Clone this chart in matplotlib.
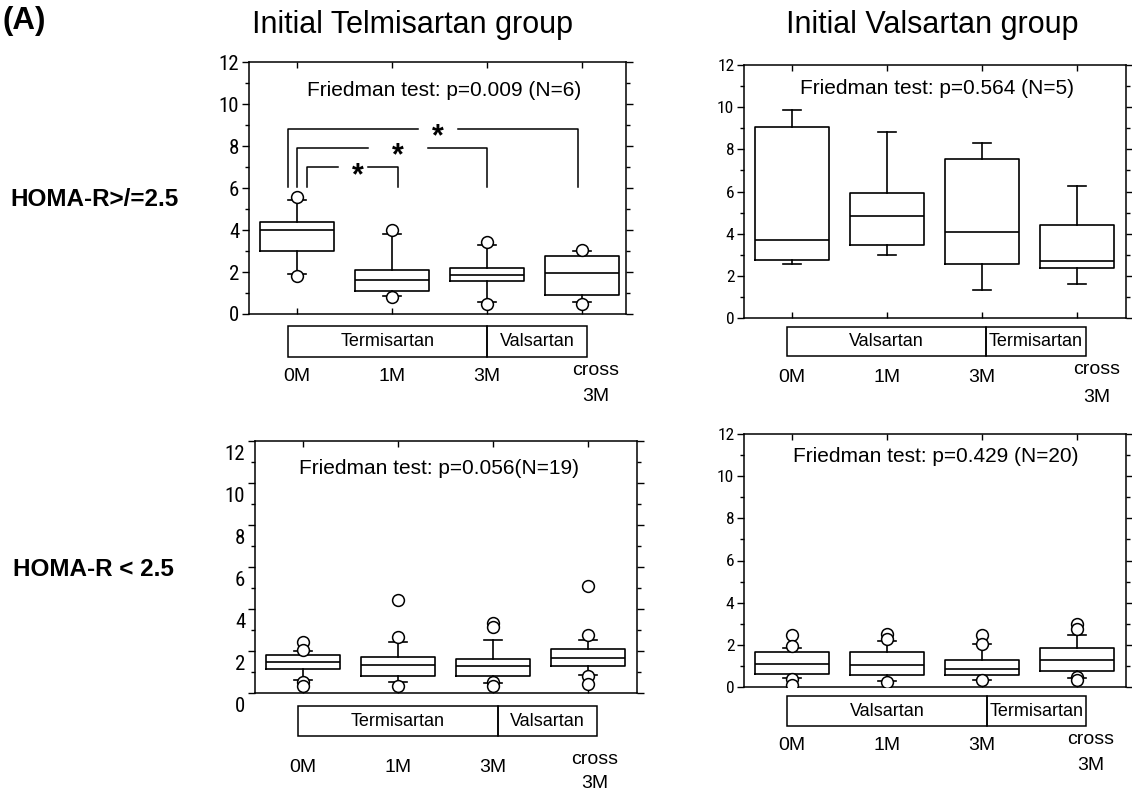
import matplotlib
matplotlib.use("Agg")
import matplotlib.pyplot as plt
from matplotlib import font_manager
from matplotlib.patches import Rectangle
from matplotlib.transforms import ScaledTranslation
from matplotlib.ticker import MultipleLocator

# ---------------- data ----------------
time_labels = ["0M", "1M", "3M", "cross\n3M"]
positions = [1, 2, 3, 4]

# Initial Telmisartan group, HOMA-R >= 2.5 (N=6)
tel_hi_q1 = [3.01, 1.11, 1.55, 0.92]
tel_hi_med = [4.00, 1.63, 1.87, 1.95]
tel_hi_q3 = [4.37, 2.10, 2.17, 2.74]
tel_hi_lo = [1.90, 0.84, 0.57, 0.57]
tel_hi_hi = [5.43, 3.82, 3.29, 2.98]
tel_hi_fliers = [[5.56, 1.82], [4.00, 0.79], [3.43, 0.49], [3.06, 0.49]]

# Initial Valsartan group, HOMA-R >= 2.5 (N=5)
val_hi_q1 = [2.77, 3.45, 2.56, 2.37]
val_hi_med = [3.69, 4.83, 4.07, 2.71]
val_hi_q3 = [9.07, 5.95, 7.52, 4.39]
val_hi_lo = [2.58, 2.99, 1.31, 1.61]
val_hi_hi = [9.86, 8.83, 8.31, 6.27]
val_hi_fliers = [[], [], [], []]

# Initial Telmisartan group, HOMA-R < 2.5 (N=19)
tel_lo_q1 = [1.14, 0.83, 0.79, 1.30]
tel_lo_med = [1.46, 1.33, 1.30, 1.69]
tel_lo_q3 = [1.83, 1.70, 1.61, 2.11]
tel_lo_lo = [0.63, 0.54, 0.47, 0.87]
tel_lo_hi = [2.02, 2.41, 2.53, 2.53]
tel_lo_fliers = [[2.41, 2.06, 0.54, 0.35], [2.68, 4.44, 0.32],
                 [3.32, 3.13, 0.51, 0.32], [2.74, 5.11, 0.79, 0.43]]

# Initial Valsartan group, HOMA-R < 2.5 (N=20)
val_lo_q1 = [0.63, 0.55, 0.55, 0.76]
val_lo_med = [1.11, 1.06, 0.87, 1.27]
val_lo_q3 = [1.68, 1.68, 1.30, 1.87]
val_lo_lo = [0.44, 0.28, 0.35, 0.43]
val_lo_hi = [1.84, 2.17, 2.06, 2.49]
val_lo_fliers = [[2.45, 1.93, 0.40, 0.11], [2.53, 2.30, 0.24],
                 [2.45, 2.06, 0.32], [2.98, 2.77, 0.47, 0.35]]

friedman_texts = ["Friedman test: p=0.009 (N=6)", "Friedman test: p=0.564 (N=5)",
                  "Friedman test: p=0.056(N=19)", "Friedman test: p=0.429 (N=20)"]
drugs_tel_first = ["Termisartan", "Valsartan"]
drugs_val_first = ["Valsartan", "Termisartan"]
col_titles = ["Initial Telmisartan group", "Initial Valsartan group"]
row_titles = ["HOMA-R>/=2.5", "HOMA-R < 2.5"]
panel_tag = "(A)"

# significance brackets (panel 1)
sig_x_left = [0.905, 1.0, 1.11]
sig_x_right = [3.96, 3.0, 2.06]
sig_y = [8.83, 7.92, 6.98]
sig_y_foot = 6.06
sig_star_x = [2.48, 2.06, 1.64]
sig_gap_left = [2.27, 1.745, 1.43]
sig_gap_right = [2.69, 2.375, 1.75]
sig_label = ["*", "*", "*"]

# ---------------- fonts ----------------
avail = {f.name for f in font_manager.fontManager.ttflist}
def pick(names, fallback="DejaVu Sans"):
    for n in names:
        if n in avail:
            return n
    return fallback

SANS = pick(["Liberation Sans", "Arial", "Noto Sans"])
NARROW = pick(["Liberation Sans Narrow", "Roboto Condensed", "Open Sans Condensed"], SANS)
plt.rcParams["font.family"] = [SANS, "DejaVu Sans"]

W, H = 1132, 794
fig = plt.figure(figsize=(W / 100, H / 100), dpi=100)

def px_rect(l, t, r, b):
    return [l / W, 1 - b / H, (r - l) / W, (b - t) / H]

panels = [
    dict(rect=px_rect(249, 62, 626, 314), xlim=(0.495, 4.463),
         stats=(tel_hi_q1, tel_hi_med, tel_hi_q3, tel_hi_lo, tel_hi_hi, tel_hi_fliers),
         text=friedman_texts[0], text_xy=(444, 90), drugs=drugs_tel_first,
         band=(0.905, 3.0, 4.05, -0.57, -2.05), ytick_fs=15, ylab_shift=0,
         lab_off=(63, 57, 83), cross_dx=14),
    dict(rect=px_rect(744, 65, 1126, 318), xlim=(0.495, 4.516),
         stats=(val_hi_q1, val_hi_med, val_hi_q3, val_hi_lo, val_hi_hi, val_hi_fliers),
         text=friedman_texts[1], text_xy=(937, 89), drugs=drugs_val_first,
         band=(0.947, 3.04, 4.09, -0.43, -1.81), ytick_fs=12.5, ylab_shift=0,
         lab_off=(59, 52, 79), cross_dx=20),
    dict(rect=px_rect(255, 441, 637, 693), xlim=(0.495, 4.516),
         stats=(tel_lo_q1, tel_lo_med, tel_lo_q3, tel_lo_lo, tel_lo_hi, tel_lo_fliers),
         text=friedman_texts[2], text_xy=(439, 468), drugs=drugs_tel_first,
         band=(0.947, 3.05, 4.09, -0.62, -2.05), ytick_fs=15, ylab_shift=11,
         lab_off=(75, 67, 90), cross_dx=7),
    dict(rect=px_rect(744, 434, 1126, 687), xlim=(0.495, 4.516),
         stats=(val_lo_q1, val_lo_med, val_lo_q3, val_lo_lo, val_lo_hi, val_lo_fliers),
         text=friedman_texts[3], text_xy=(936, 457), drugs=drugs_val_first,
         band=(0.947, 3.05, 4.10, -0.43, -1.86), ytick_fs=12.5, ylab_shift=0,
         lab_off=(58, 53, 78), cross_dx=14),
]

LW = 1.2
axes = []
for p in panels:
    ax = fig.add_axes(p["rect"])
    axes.append(ax)
    q1, med, q3, lo, hi, fl = p["stats"]
    bstats = []
    for i in range(len(positions)):
        bstats.append(dict(q1=q1[i], med=med[i], q3=q3[i], whislo=lo[i],
                           whishi=hi[i], fliers=fl[i]))
    ax.bxp(bstats, positions=positions, widths=0.78, capwidths=0.19,
           showfliers=True, patch_artist=False,
           boxprops=dict(color="black", lw=LW),
           medianprops=dict(color="black", lw=LW),
           whiskerprops=dict(color="black", lw=LW),
           capprops=dict(color="black", lw=LW),
           flierprops=dict(marker="o", markerfacecolor="white",
                           markeredgecolor="black", markersize=8.5,
                           markeredgewidth=1.1, zorder=4))
    ax.set_xlim(*p["xlim"])
    ax.set_ylim(0, 12)
    ax.yaxis.set_major_locator(MultipleLocator(2))
    ax.yaxis.set_minor_locator(MultipleLocator(1))
    ax.set_xticks(positions)
    ax.set_xticklabels([])
    ax.tick_params(axis="x", which="both", direction="in", length=4, width=1,
                   top=True, bottom=True, labelbottom=False)
    ax.tick_params(axis="y", which="major", direction="out", length=5, width=1,
                   left=True, right=True, labelsize=p["ytick_fs"], pad=2)
    ax.tick_params(axis="y", which="minor", direction="out", length=3, width=1,
                   left=True, right=True)
    for lab in ax.get_yticklabels():
        lab.set_fontfamily(NARROW)
        if p["ylab_shift"]:
            lab.set_transform(lab.get_transform() +
                              ScaledTranslation(0, -p["ylab_shift"] / 100, fig.dpi_scale_trans))
    for s in ax.spines.values():
        s.set_linewidth(1.1)

    # Friedman text
    tx, ty = p["text_xy"]
    fig.text(tx / W, 1 - ty / H, p["text"], ha="center", va="center", fontsize=15)

    # drug band
    x0, xm, x1, yt, yb = p["band"]
    for (a, b), name in zip([(x0, xm), (xm, x1)], p["drugs"]):
        ax.add_patch(Rectangle((a, yb), b - a, yt - yb, fill=False, ec="black",
                               lw=1.1, clip_on=False, transform=ax.transData))
        ax.text((a + b) / 2, (yt + yb) / 2, name, ha="center", va="center",
                fontsize=13, clip_on=False)

    # time labels
    off_single, off_l1, off_l2 = p["lab_off"]
    for xpos, lab in zip(positions, time_labels):
        lines = lab.split("\n")
        if len(lines) == 1:
            ax.annotate(lines[0], xy=(xpos, 0), xycoords=("data", "axes fraction"),
                        xytext=(0, -off_single), textcoords="offset pixels",
                        ha="center", va="center", fontsize=14, annotation_clip=False)
        else:
            for ln, off in zip(lines, (off_l1, off_l2)):
                ax.annotate(ln, xy=(xpos, 0), xycoords=("data", "axes fraction"),
                            xytext=(p["cross_dx"], -off), textcoords="offset pixels",
                            ha="center", va="center", fontsize=14, annotation_clip=False)

# significance brackets on panel 1
ax1 = axes[0]
for xl, xr, yl, sx, gl, gr, s in zip(sig_x_left, sig_x_right, sig_y, sig_star_x,
                                     sig_gap_left, sig_gap_right, sig_label):
    ax1.plot([xl, xl, gl], [sig_y_foot, yl, yl], color="black", lw=1.1)
    ax1.plot([gr, xr, xr], [yl, yl, sig_y_foot], color="black", lw=1.1)
    ax1.annotate(s, xy=(sx, yl), xycoords="data", xytext=(0, -17),
                 textcoords="offset pixels", ha="center", va="baseline",
                 fontsize=22, fontweight="bold")

# titles
fig.text(412 / W, 1 - 25 / H, col_titles[0], ha="center", va="center", fontsize=22)
fig.text(932 / W, 1 - 25 / H, col_titles[1], ha="center", va="center", fontsize=22)
fig.text(10 / W, 1 - 199 / H, row_titles[0], ha="left", va="center", fontsize=17.5, fontweight="bold")
fig.text(13 / W, 1 - 570 / H, row_titles[1], ha="left", va="center", fontsize=17.5, fontweight="bold")
fig.text(3 / W, 1 - 21 / H, panel_tag, ha="left", va="center", fontsize=22.5, fontweight="bold")

fig.savefig("out.png", dpi=100)
